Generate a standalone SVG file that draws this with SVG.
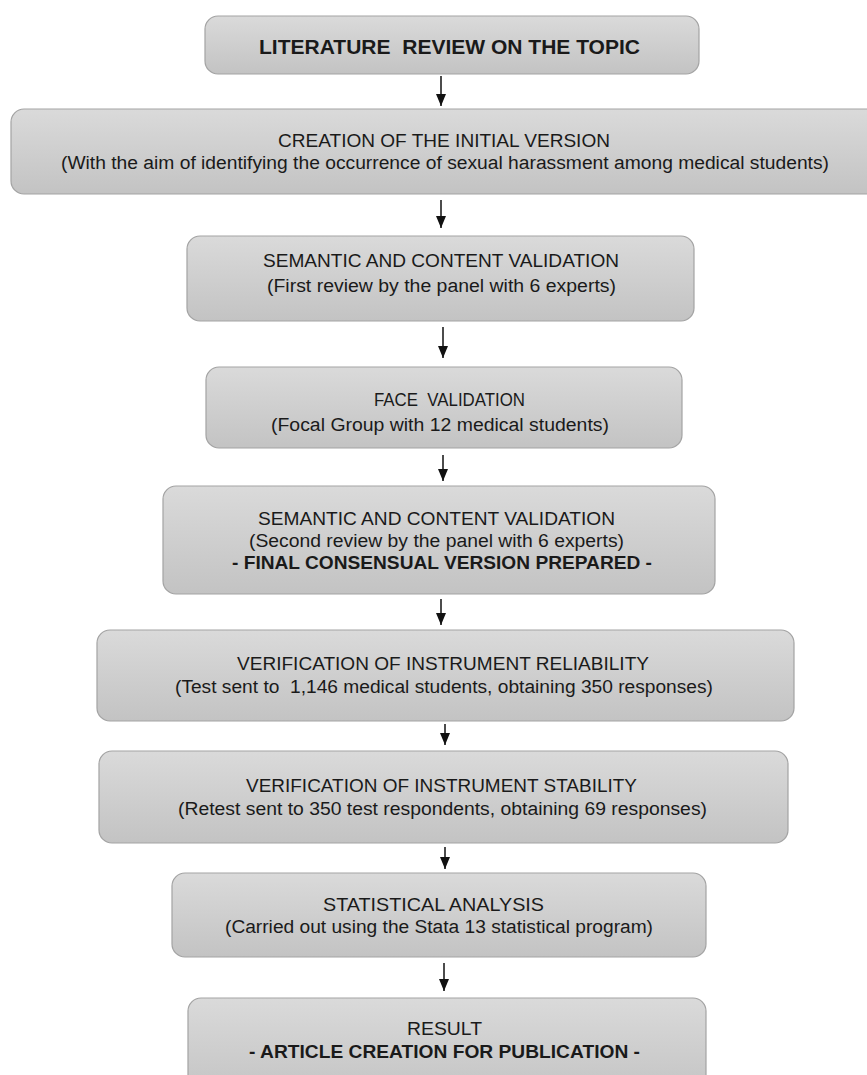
<svg xmlns="http://www.w3.org/2000/svg" width="867" height="1075" viewBox="0 0 867 1075">
<style>
.box{fill:url(#g);stroke:#a3a3a3;stroke-width:1.2}
.t{font-family:"Liberation Sans",Arial,sans-serif;font-size:18px;fill:#1a1a1a;text-anchor:middle}
.b{font-weight:bold;font-size:17.5px}
.h{font-weight:bold;font-size:20px}
.c{stroke:#111;stroke-width:1.5;fill:none;marker-end:url(#ah)}
</style>
<defs>
<linearGradient id="g" x1="0" y1="0" x2="0" y2="1">
<stop offset="0" stop-color="#dadada"/>
<stop offset="1" stop-color="#c3c3c3"/>
</linearGradient>
<marker id="ah" markerUnits="userSpaceOnUse" markerWidth="12" markerHeight="10" refX="12" refY="5" orient="auto">
<path d="M0,0 L12,5 L0,10 z" fill="#111"/>
</marker>
</defs>
<rect width="867" height="1075" fill="#fff"/>
<g id="connectors">
<line class="c" x1="441" y1="76" x2="441" y2="106"/>
<line class="c" x1="441" y1="200" x2="441" y2="228"/>
<line class="c" x1="443" y1="327" x2="443" y2="358"/>
<line class="c" x1="443" y1="455" x2="443" y2="481"/>
<line class="c" x1="441" y1="599" x2="441" y2="625"/>
<line class="c" x1="445" y1="724" x2="445" y2="745"/>
<line class="c" x1="445" y1="847" x2="445" y2="869"/>
<line class="c" x1="444" y1="963" x2="444" y2="991"/>
</g>
<g id="n1">
<rect class="box" x="205" y="16" width="494" height="58" rx="13"/>
<text class="t h" x="449.5" y="54" textLength="381" lengthAdjust="spacingAndGlyphs" xml:space="preserve">LITERATURE  REVIEW ON THE TOPIC</text>
</g>
<g id="n2">
<rect class="box" x="11" y="109" width="872" height="85" rx="13"/>
<text class="t" x="444" y="147" textLength="332" lengthAdjust="spacingAndGlyphs">CREATION OF THE INITIAL VERSION</text>
<text class="t" x="445" y="169" textLength="768" lengthAdjust="spacingAndGlyphs">(With the aim of identifying the occurrence of sexual harassment among medical students)</text>
</g>
<g id="n3">
<rect class="box" x="187" y="236" width="507" height="85" rx="13"/>
<text class="t" x="441" y="267" textLength="356" lengthAdjust="spacingAndGlyphs">SEMANTIC AND CONTENT VALIDATION</text>
<text class="t" x="441.5" y="292" textLength="349" lengthAdjust="spacingAndGlyphs">(First review by the panel with 6 experts)</text>
</g>
<g id="n4">
<rect class="box" x="206" y="367" width="476" height="81" rx="13"/>
<text class="t" x="449.5" y="406" textLength="151" lengthAdjust="spacingAndGlyphs" xml:space="preserve">FACE  VALIDATION</text>
<text class="t" x="440" y="431" textLength="338" lengthAdjust="spacingAndGlyphs">(Focal Group with 12 medical students)</text>
</g>
<g id="n5">
<rect class="box" x="163" y="486" width="552" height="108" rx="13"/>
<text class="t" x="436.5" y="525" textLength="357" lengthAdjust="spacingAndGlyphs">SEMANTIC AND CONTENT VALIDATION</text>
<text class="t" x="436.5" y="547" textLength="375" lengthAdjust="spacingAndGlyphs">(Second review by the panel with 6 experts)</text>
<text class="t b" x="442" y="569" textLength="420" lengthAdjust="spacingAndGlyphs">- FINAL CONSENSUAL VERSION PREPARED -</text>
</g>
<g id="n6">
<rect class="box" x="97" y="630" width="697" height="91" rx="13"/>
<text class="t" x="443" y="670" textLength="412" lengthAdjust="spacingAndGlyphs">VERIFICATION OF INSTRUMENT RELIABILITY</text>
<text class="t" x="444" y="693" textLength="538" lengthAdjust="spacingAndGlyphs" xml:space="preserve">(Test sent to  1,146 medical students, obtaining 350 responses)</text>
</g>
<g id="n7">
<rect class="box" x="99" y="751" width="689" height="92" rx="13"/>
<text class="t" x="441.5" y="792" textLength="391" lengthAdjust="spacingAndGlyphs">VERIFICATION OF INSTRUMENT STABILITY</text>
<text class="t" x="442.5" y="815" textLength="529" lengthAdjust="spacingAndGlyphs">(Retest sent to 350 test respondents, obtaining 69 responses)</text>
</g>
<g id="n8">
<rect class="box" x="172" y="873" width="534" height="84" rx="13"/>
<text class="t" x="433.5" y="911" textLength="221" lengthAdjust="spacingAndGlyphs">STATISTICAL ANALYSIS</text>
<text class="t" x="439" y="933" textLength="428" lengthAdjust="spacingAndGlyphs">(Carried out using the Stata 13 statistical program)</text>
</g>
<g id="n9">
<rect class="box" x="188" y="998" width="518" height="100" rx="13"/>
<text class="t" x="444.5" y="1035" textLength="75" lengthAdjust="spacingAndGlyphs">RESULT</text>
<text class="t b" x="444.5" y="1058" textLength="391" lengthAdjust="spacingAndGlyphs">- ARTICLE CREATION FOR PUBLICATION -</text>
</g>
</svg>
